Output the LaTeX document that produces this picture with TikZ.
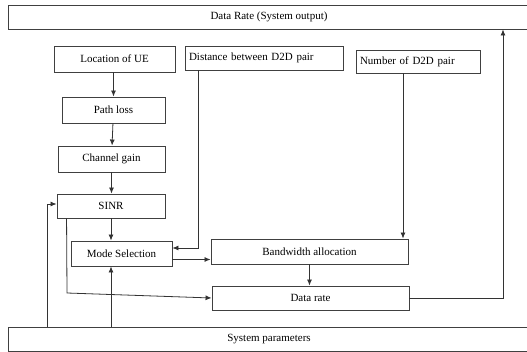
\documentclass[tikz,border=0pt]{standalone}
\usepackage{fontspec}
\setmainfont{Liberation Serif}
\usetikzlibrary{arrows.meta}
\tikzset{
	blk/.style={draw=black!75, line width=0.9pt, inner sep=4pt, font=\fontsize{11}{13}\selectfont},
	arr/.style={draw=black!80, line width=0.8pt, -{Latex[length=6pt,width=5pt]}},
}

\begin{document}
\begin{tikzpicture}[x=1pt, y=-1pt]
			%%%%% START %%%%%
			\clip (0, 0) rectangle (527, 352);
			
			\node[blk, minimum width=522, minimum height=24] (out) at (269, 17) {Data Rate (System output)};
			\node[blk, minimum width=522, minimum height=24] (sys) at (269, 339) {System parameters};
			
			\node[blk, minimum width=121, minimum height=26] (loc) at (114.5, 59) {Location of UE};
			\node[blk, text width=150, minimum height=24, align=left] (dist) at (264, 58) {Distance between D2D pair};
			\node[blk, text width=116, minimum height=23, align=left] (num) at (418, 61.5) {Number of D2D pair};
			
			\node[blk, minimum width=103, minimum height=26] (path) at (113.5, 110) {Path loss};
			\node[blk, minimum width=107, minimum height=26] (chan) at (111.5, 159) {Channel gain};
			\node[blk, minimum width=108, minimum height=24] (sinr) at (111, 206) {SINR};
			\node[blk, minimum width=101, minimum height=25] (mode) at (121.5, 253.5) {Mode Selection};
			\node[blk, minimum width=197, minimum height=25] (bw) at (309.5, 251.5) {Bandwidth allocation};
			\node[blk, minimum width=197, minimum height=24] (dr) at (310.5, 298) {Data rate};
			
			% chain on the left
			\draw[arr] (loc.south -| path.north) -- (path.north);
			\draw[arr] (path) -- (chan);
			\draw[arr] (chan.south) -- (chan.south |- sinr.north);
			\draw[arr] (sinr.south) -- (sinr.south |- mode.north);
			
			% inputs from the top row
			\draw[arr] ([xshift=-66pt]dist.south) |- ([yshift=5.5pt]mode.east);
			\draw[arr] ([xshift=-15pt]num.south) -- ([xshift=-15pt]num.south |- bw.north);
			
			\draw[arr] ([yshift=-6pt]mode.east) -- ([yshift=-6pt]mode.east -| bw.west);
			\draw[arr] (bw.south) -- (bw.south |- dr.north);
			
			\coordinate (bend) at (67, 293);
			\draw[arr] ([xshift=10pt]sinr.south west) -- (bend) -- (dr.west);
			
			\draw[arr] (dr.east) -| ([xshift=234pt]out.south);
			
			% system parameters feed back
			\draw[arr] ([xshift=40pt]sys.north west) |- ([yshift=2pt]sinr.west);
			\draw[arr] (sys.north -| sinr.south) -- (sinr.south |- mode.south);
			
			%%%%% END %%%%%
		\end{tikzpicture}
\end{document}
